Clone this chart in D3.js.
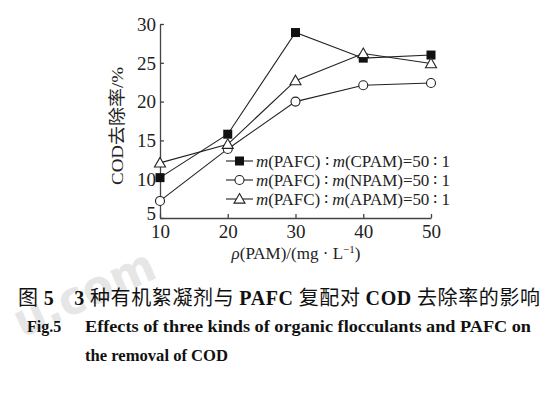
<!DOCTYPE html>
<html><head><meta charset="utf-8">
<script src="https://cdn.jsdelivr.net/npm/d3@7"></script>
<style>body{margin:0;background:#fff}svg{display:block}</style>
</head><body>
<script>
const xValues = [10, 20, 30, 40, 50];
const cpam = [10.2, 15.8, 28.9, 25.6, 26.0];
const npam = [7.2, 13.9, 20.0, 22.1, 22.4];
const apam = [12.1, 14.5, 22.7, 26.2, 24.9];
const yTicks = [5, 10, 15, 20, 25, 30];
const xTicks = [10, 20, 30, 40, 50];
const seriesNames = ["CPAM", "NPAM", "APAM"];
const seriesMarkers = ["square", "circle", "triangle"];

const W = 560, H = 393;
const svg = d3.select("body").append("svg").attr("width", W).attr("height", H);
const serif = "'Liberation Serif','Times New Roman',serif";
const x = d3.scaleLinear().domain([10, 50]).range([160, 431]);
const y = d3.scaleLinear().domain([5, 30]).range([218, 24]);

// watermark (behind everything)
svg.append("text").attr("x", 22).attr("y", 338).attr("transform", "rotate(-24,22,338)")
  .attr("font-family", "'DejaVu Sans',sans-serif").attr("font-weight", "bold").attr("font-size", 46)
  .attr("textLength", 150).attr("lengthAdjust", "spacingAndGlyphs")
  .attr("fill", "#e6e6e6").text("u.com");

// axes
const gx = svg.append("g").attr("transform", "translate(0,218)")
  .call(d3.axisBottom(x).tickValues(xTicks).tickSizeInner(-4).tickSizeOuter(0).tickPadding(6));
const gy = svg.append("g").attr("transform", "translate(160,0)")
  .call(d3.axisLeft(y).tickValues(yTicks).tickSizeInner(-4).tickSizeOuter(0).tickPadding(4));
[gx, gy].forEach(g => {
  g.attr("font-family", serif);
  g.selectAll("path,line").attr("stroke", "#444").attr("stroke-width", 1.3);
  g.selectAll("text").attr("font-family", serif).attr("font-size", 19).attr("fill", "#222");
});
gx.selectAll("text").attr("dy", "0.72em");
gy.selectAll("text").attr("dy", "0.33em");
gy.selectAll("text").filter(d => d === 5).attr("dy", "0.1em");

// y label
svg.append("text").attr("transform", "translate(123,126) rotate(-90)")
  .attr("text-anchor", "middle").attr("font-family", serif + ",'Noto Sans CJK SC'").attr("font-size", 17).attr("fill", "#222")
  .attr("textLength", 118).attr("lengthAdjust", "spacingAndGlyphs")
  .text("COD去除率/%");
// x label
const xl = svg.append("text").attr("x", 296).attr("y", 259).attr("text-anchor", "middle")
  .attr("font-family", serif).attr("font-size", 17).attr("fill", "#222");
xl.append("tspan").attr("font-style", "italic").text("ρ");
xl.append("tspan").text("(PAM)/(mg · L");
xl.append("tspan").attr("font-size", 11).attr("dy", -6).text("−1");
xl.append("tspan").attr("dy", 6).text(")");

const allSeries = [cpam, npam, apam];
const line = d3.line().x((d, i) => x(xValues[i])).y(d => y(d));

function marker(g, type, cx, cy) {
  if (type === "square") {
    g.append("rect").attr("x", cx - 4.5).attr("y", cy - 4.5).attr("width", 9).attr("height", 9).attr("fill", "#111");
  } else if (type === "circle") {
    g.append("circle").attr("cx", cx).attr("cy", cy).attr("r", 4.5).attr("fill", "#fff").attr("stroke", "#222").attr("stroke-width", 1.1);
  } else {
    const s = 5.5;
    g.append("path").attr("d", `M${cx},${cy - s}L${cx + s},${cy + s * 0.75}L${cx - s},${cy + s * 0.75}Z`)
      .attr("fill", "#fff").attr("stroke", "#222").attr("stroke-width", 1.1);
  }
}

allSeries.forEach((data, si) => {
  const g = svg.append("g");
  g.append("path").attr("d", line(data)).attr("fill", "none").attr("stroke", "#222").attr("stroke-width", 1.1);
  data.forEach((d, i) => marker(g, seriesMarkers[si], x(xValues[i]), y(d)));
});

// legend
const legY = [161, 180, 199];
seriesNames.forEach((name, i) => {
  const g = svg.append("g");
  g.append("line").attr("x1", 226).attr("x2", 253).attr("y1", legY[i]).attr("y2", legY[i]).attr("stroke", "#222").attr("stroke-width", 1.1);
  marker(g, seriesMarkers[i], 239.5, legY[i]);
  const t = g.append("text").attr("x", 256).attr("y", legY[i]).attr("dy", "0.35em")
    .attr("font-family", serif).attr("font-size", 17).attr("fill", "#222")
    .attr("textLength", 194).attr("lengthAdjust", "spacing");
  t.append("tspan").attr("font-style", "italic").text("m");
  t.append("tspan").text("(PAFC) ∶ ");
  t.append("tspan").attr("font-style", "italic").text("m");
  t.append("tspan").text(`(${name})=50 ∶ 1`);
});

// captions
const cap = svg.append("text").attr("x", 18).attr("y", 305).attr("font-size", 20).attr("fill", "#111")
  .attr("font-family", "'Noto Sans CJK SC',sans-serif")
  .attr("textLength", 522).attr("lengthAdjust", "spacing");
cap.append("tspan").text("图 ");
cap.append("tspan").attr("font-family", serif).attr("font-weight", "bold").text("5");
cap.append("tspan").attr("dx", 20).attr("font-family", serif).attr("font-weight", "bold").text("3");
cap.append("tspan").text(" 种有机絮凝剂与 ");
cap.append("tspan").attr("font-family", serif).attr("font-weight", "bold").text("PAFC");
cap.append("tspan").text(" 复配对 ");
cap.append("tspan").attr("font-family", serif).attr("font-weight", "bold").text("COD");
cap.append("tspan").text(" 去除率的影响");

svg.append("text").attr("x", 27).attr("y", 332).attr("font-family", serif).attr("font-weight", "bold")
  .attr("font-size", 16).attr("fill", "#111").text("Fig.5");
svg.append("text").attr("x", 85).attr("y", 332).attr("font-family", serif).attr("font-weight", "bold")
  .attr("font-size", 16).attr("fill", "#111").attr("textLength", 446).attr("lengthAdjust", "spacingAndGlyphs")
  .text("Effects of three kinds of organic flocculants and PAFC on");
svg.append("text").attr("x", 85).attr("y", 361).attr("font-family", serif).attr("font-weight", "bold")
  .attr("font-size", 16).attr("fill", "#111").attr("textLength", 143).attr("lengthAdjust", "spacingAndGlyphs")
  .text("the removal of COD");
</script>
</body></html>
